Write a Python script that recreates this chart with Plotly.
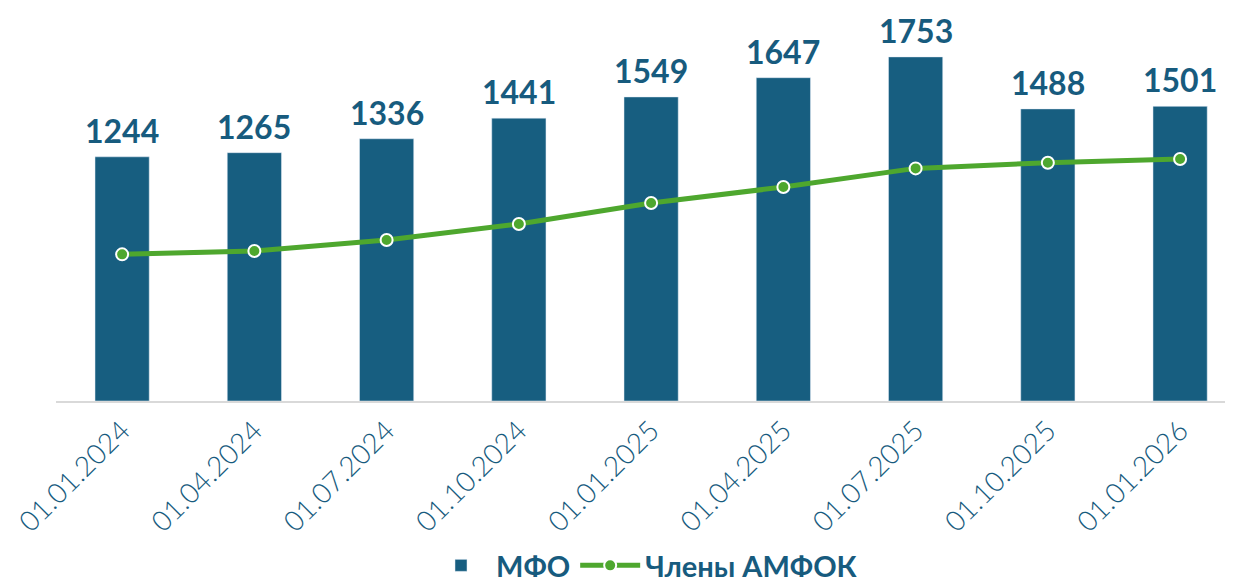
import plotly.graph_objects as go

dates = ["01.01.2024", "01.04.2024", "01.07.2024", "01.10.2024", "01.01.2025",
         "01.04.2025", "01.07.2025", "01.10.2025", "01.01.2026"]
mfo = [1244, 1265, 1336, 1441, 1549, 1647, 1753, 1488, 1501]
amfok = [747, 764, 820, 902, 1009, 1090, 1185, 1214, 1233]

BLUE = "#175E80"
TXT = "#175B7E"
GREEN = "#4EA72E"

fig = go.Figure()
fig.add_trace(go.Bar(x=dates, y=mfo, name="МФО", marker_color=BLUE, width=0.41))
fig.add_trace(go.Scatter(x=dates, y=amfok, name="Члены АМФОК", mode="lines+markers",
                         line=dict(color=GREEN, width=5),
                         marker=dict(size=12, color=GREEN, line=dict(color="white", width=2))))

for d, v in zip(dates, mfo):
    fig.add_annotation(x=d, y=v, text=str(v), showarrow=False, yanchor="bottom", yshift=5,
                       font=dict(family="Lato", size=32, color=TXT, weight="bold"))

fig.update_layout(
    width=1225, height=583,
    margin=dict(l=48, r=0, t=0, b=190),
    plot_bgcolor="white", paper_bgcolor="white",
    showlegend=True,
    legend=dict(orientation="h", x=0.5, xanchor="center", y=-0.355, yanchor="top",
                font=dict(family="Lato", size=29, color=TXT, weight="bold"),
                itemwidth=60, traceorder="normal"),
    bargap=0.5,
)
fig.update_xaxes(range=[-0.5, 8.4], showline=True, linecolor="#D9D9D9", linewidth=2,
                 ticks="", tickangle=-45,
                 tickfont=dict(family="Lato", size=28, color=TXT, weight=300))
fig.update_yaxes(range=[0, 2002], visible=False, showgrid=False)

fig.write_html("out.html")
